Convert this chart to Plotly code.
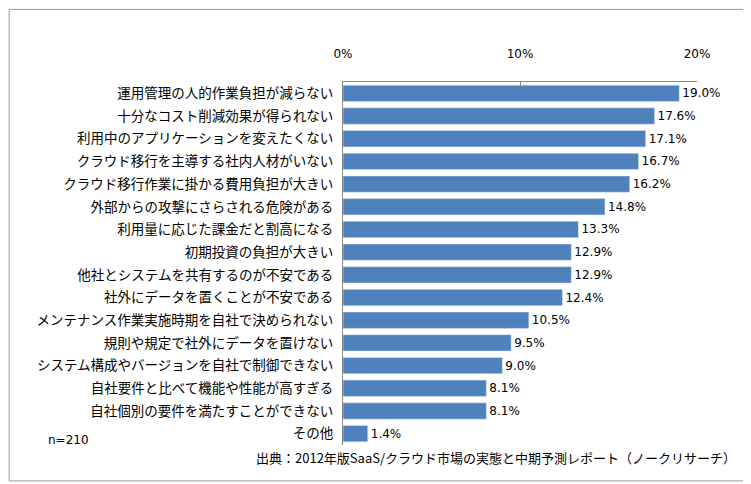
import plotly.graph_objects as go

labels = ['運用管理の人的作業負担が減らない', '十分なコスト削減効果が得られない', '利用中のアプリケーションを変えたくない',
          'クラウド移行を主導する社内人材がいない', 'クラウド移行作業に掛かる費用負担が大きい', '外部からの攻撃にさらされる危険がある',
          '利用量に応じた課金だと割高になる', '初期投資の負担が大きい', '他社とシステムを共有するのが不安である',
          '社外にデータを置くことが不安である', 'メンテナンス作業実施時期を自社で決められない', '規則や規定で社外にデータを置けない',
          'システム構成やバージョンを自社で制御できない', '自社要件と比べて機能や性能が高すぎる', '自社個別の要件を満たすことができない',
          'その他']
values = [19.0, 17.6, 17.1, 16.7, 16.2, 14.8, 13.3, 12.9, 12.9, 12.4, 10.5, 9.5, 9.0, 8.1, 8.1, 1.4]

fig = go.Figure(go.Bar(
    y=labels, x=values, orientation='h', marker_color='#4F81BD', width=0.72,
    text=[f'{v:.1f}%' for v in values], textposition='outside', cliponaxis=False,
    textfont=dict(family='DejaVu Sans', size=12, color='#000')))

fig.update_layout(
    width=751, height=484, plot_bgcolor='white', paper_bgcolor='white',
    margin=dict(l=335, r=62, t=74, b=47),
    font=dict(family='Noto Sans CJK JP', size=13.5, color='#000'),
    showlegend=False,
    xaxis=dict(side='top', range=[0, 20], tickvals=[0, 10, 20], ticktext=['0%', '10%', '20%'],
               tickfont=dict(family='DejaVu Sans', size=12),
               showgrid=False, showline=True, linecolor='#888', ticks='inside', ticklen=5,
               tickcolor='#888', ticklabelstandoff=18, zeroline=False),
    yaxis=dict(autorange='reversed', showline=True, linecolor='#888', ticks='',
               showgrid=False, ticklabelstandoff=6),
    shapes=[dict(type='rect', xref='paper', yref='paper', x0=-0.943, x1=1.144, y0=-0.099, y1=1.2,
                 line=dict(color='#999', width=1))],
    annotations=[
        dict(text='n=210', xref='paper', yref='paper', x=-0.84, y=-0.01, showarrow=False, xanchor='left',
             font=dict(family='DejaVu Sans', size=12)),
        dict(text='出典：2012年版SaaS/クラウド市場の実態と中期予測レポート（ノークリサーチ）', xref='paper', yref='paper',
             x=1.115, y=-0.065, showarrow=False, xanchor='right', font=dict(size=13)),
    ])

fig.write_html('out.html')
